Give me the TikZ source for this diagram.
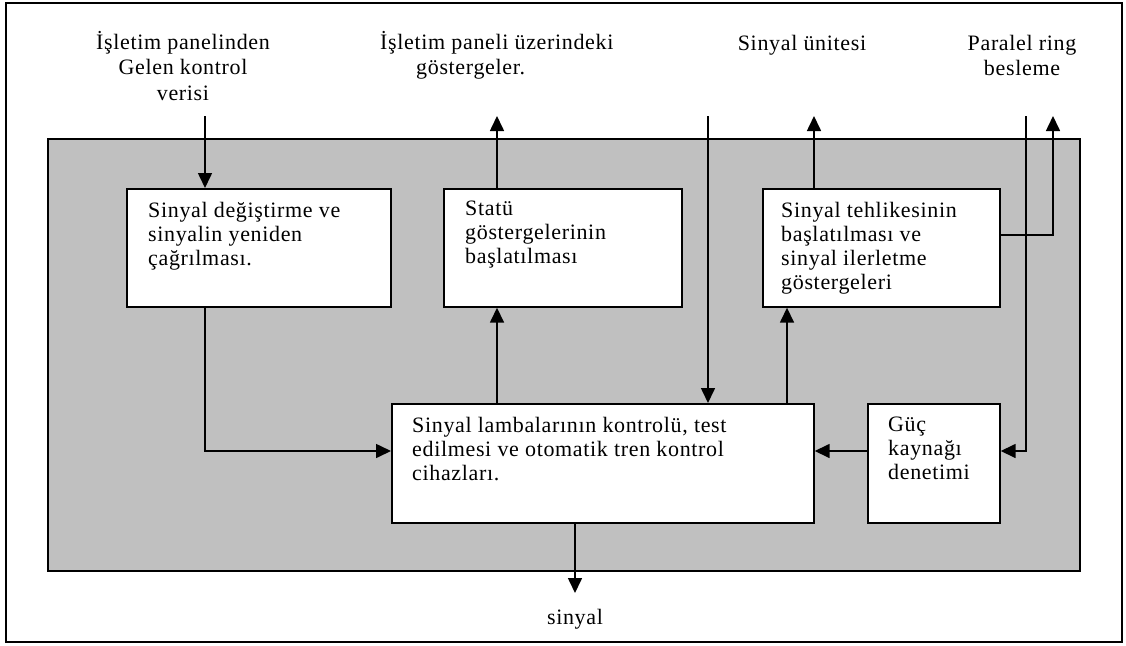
\documentclass[tikz,border=0pt]{standalone}
\usepackage{fontspec}
\setmainfont{Liberation Serif}[LetterSpace=3]
\usetikzlibrary{arrows.meta}
\definecolor{panelgray}{RGB}{192,192,192}
\begin{document}
\begin{tikzpicture}[x=1pt,y=-1pt,
  boxst/.style={draw=black, line width=1.7pt, fill=white, inner sep=0pt, anchor=north west},
  txt/.style={inner sep=0pt, anchor=north west, align=left, font=\fontsize{22}{24}\selectfont},
  lbl/.style={inner sep=0pt, anchor=north, align=center, font=\fontsize{22}{25.5}\selectfont},
  arr/.style={line width=1.6pt, -{Triangle[length=15pt,width=14pt]}}]
\useasboundingbox (0,0) rectangle (1126,645);
\fill[white] (0,0) rectangle (1126,645);
\draw[line width=2pt] (6,3) rectangle (1122,642);
\node[draw, line width=1.6pt, fill=panelgray, minimum width=1032pt, minimum height=432pt, inner sep=0pt, anchor=north west] (panel) at (47,138) {};
% boxes
\node[boxst, minimum width=264pt, minimum height=118pt] (b1) at (126,188) {};
\node[boxst, minimum width=238pt, minimum height=118pt] (b2) at (443,188) {};
\node[boxst, minimum width=237pt, minimum height=118pt] (b3) at (762,188) {};
\node[boxst, minimum width=422pt, minimum height=119pt] (b4) at (391,403) {};
\node[boxst, minimum width=132pt, minimum height=119pt] (b5) at (867,403) {};
% box texts
\node[txt] (t1) at (148,202) {Sinyal değiştirme ve\\sinyalin yeniden\\çağrılması.};
\node[txt] (t2) at (465,201) {Statü\\göstergelerinin\\başlatılması};
\node[txt] (t3) at (781,202) {Sinyal tehlikesinin\\başlatılması ve\\sinyal ilerletme\\göstergeleri};
\node[txt] (t4) at (412,417) {Sinyal lambalarının kontrolü, test\\edilmesi ve otomatik tren kontrol\\cihazları.};
\node[txt] (t5) at (888,417) {Güç\\kaynağı\\denetimi};
% outside labels
\node[lbl] (l1) at (183,31) {İşletim panelinden\\Gelen kontrol\\verisi};
\node[lbl, anchor=north west, align=left] (l2) at (380,31) {İşletim paneli üzerindeki\\\hspace*{36pt}göstergeler.};
\node[lbl] (l3) at (802,35) {Sinyal ünitesi};
\node[lbl] (l4) at (1022,35) {Paralel ring\\besleme};
\node[lbl, anchor=center] (l5) at (575,619) {sinyal};
% coordinates
\coordinate (i1) at (205,116);
\coordinate (o2) at (497,116);
\coordinate (i3) at (708,116);
\coordinate (o3) at (814,116);
\coordinate (i4) at (1026,116);
\coordinate (o4) at (1053,116);
\coordinate (hy) at (0,451);
\coordinate (ry) at (0,235);
\coordinate (x43) at (787,0);
\coordinate (o5) at (575,593);
% connectors
\draw[arr] (i1) -- (i1 |- b1.north);
\draw[arr] (i1 |- b1.south) |- (b4.west |- hy);
\draw[arr] (o2 |- b4.north) -- (o2 |- b2.south);
\draw[arr] (o2 |- b2.north) -- (o2);
\draw[arr] (i3) -- (i3 |- b4.north);
\draw[arr] (x43 |- b4.north) -- (x43 |- b3.south);
\draw[arr] (o3 |- b3.north) -- (o3);
\draw[arr] (b3.east |- ry) -| (o4);
\draw[arr] (i4) |- (b5.east |- hy);
\draw[arr] (b5.west |- hy) -- (b4.east |- hy);
\draw[arr] (o5 |- b4.south) -- (o5);
\end{tikzpicture}
\end{document}
